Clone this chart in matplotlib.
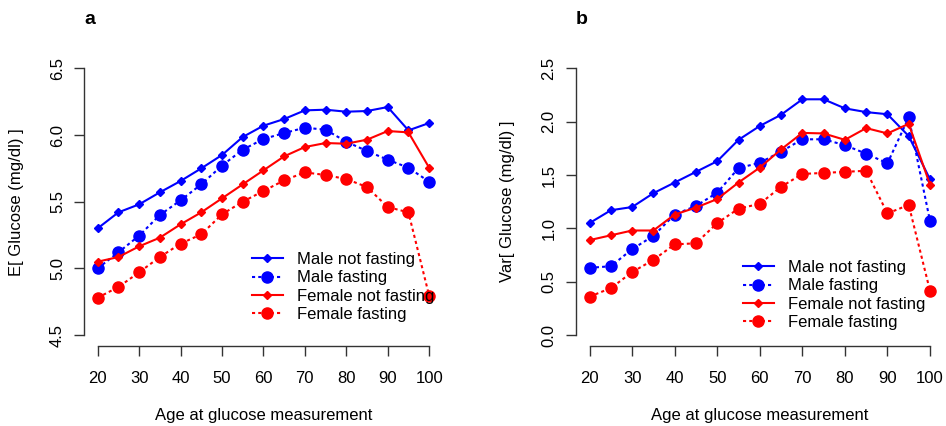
import matplotlib
matplotlib.use("Agg")
import matplotlib.pyplot as plt

plt.rcParams['font.family'] = ['Liberation Sans', 'DejaVu Sans']

edad = [20, 25, 30, 35, 40, 45, 50, 55, 60, 65, 70, 75, 80, 85, 90, 95, 100]

# Panel a: media de glucosa
media_hombre_no_ayuno = [5.30, 5.42, 5.48, 5.57, 5.655, 5.75, 5.85, 5.985, 6.07, 6.12,
                         6.185, 6.19, 6.175, 6.18, 6.21, 6.035, 6.09]
media_hombre_ayuno = [5.00, 5.12, 5.245, 5.40, 5.51, 5.63, 5.77, 5.89, 5.97, 6.015,
                      6.055, 6.04, 5.95, 5.88, 5.815, 5.755, 5.65]
media_mujer_no_ayuno = [5.05, 5.085, 5.165, 5.23, 5.33, 5.42, 5.525, 5.63, 5.735, 5.84,
                        5.91, 5.94, 5.935, 5.965, 6.03, 6.02, 5.755]
media_mujer_ayuno = [4.78, 4.86, 4.97, 5.085, 5.185, 5.255, 5.405, 5.50, 5.58, 5.66,
                     5.72, 5.70, 5.67, 5.61, 5.46, 5.42, 4.795]

# Panel b: varianza de glucosa
var_hombre_no_ayuno = [1.05, 1.17, 1.20, 1.33, 1.43, 1.53, 1.63, 1.83, 1.96, 2.065,
                       2.21, 2.21, 2.125, 2.09, 2.07, 1.865, 1.46]
var_hombre_ayuno = [0.63, 0.645, 0.805, 0.93, 1.13, 1.21, 1.335, 1.565, 1.615, 1.72,
                    1.835, 1.835, 1.78, 1.70, 1.61, 2.04, 1.07]
var_mujer_no_ayuno = [0.89, 0.935, 0.98, 0.98, 1.13, 1.195, 1.275, 1.43, 1.57, 1.74,
                      1.895, 1.89, 1.83, 1.94, 1.89, 1.98, 1.41]
var_mujer_ayuno = [0.36, 0.44, 0.59, 0.705, 0.85, 0.86, 1.05, 1.185, 1.23, 1.39,
                   1.51, 1.52, 1.53, 1.54, 1.14, 1.22, 0.415]

etiquetas = ['Male not fasting', 'Male fasting', 'Female not fasting', 'Female fasting']

W, H = 946, 426
fig = plt.figure(figsize=(W / 100, H / 100), dpi=100)


def dibujar_panel(rect, series, yticks, ylabel, letra, letra_x, leyenda_pos):
    ax = fig.add_axes(rect)
    estilos = [('#0000FF', '-', 'D', 3.8), ('#0000FF', (0, (1.5, 1.5)), 'o', 8),
               ('#FF0000', '-', 'D', 3.8), ('#FF0000', (0, (1.5, 1.5)), 'o', 8)]
    for datos, (color, ls, mk, ms), etiqueta in zip(series, estilos, etiquetas):
        ax.plot(edad, datos, color=color, linestyle=ls, linewidth=1.5,
                marker=mk, markersize=ms, label=etiqueta)
    ypad = (yticks[-1] - yticks[0]) * 0.04
    ax.set_xlim(16.8, 103.2)
    ax.set_ylim(yticks[0] - ypad, yticks[-1] + ypad)
    ax.set_xticks(range(20, 101, 10))
    ax.set_yticks(yticks)
    ax.set_yticklabels(['%.1f' % v for v in yticks], rotation=90, va='center')
    ax.spines['top'].set_visible(False)
    ax.spines['right'].set_visible(False)
    ax.spines['left'].set_bounds(yticks[0], yticks[-1])
    ax.spines['bottom'].set_bounds(20, 100)
    for s in ('left', 'bottom'):
        ax.spines[s].set_color('#333333')
        ax.spines[s].set_linewidth(1.0)
    ax.tick_params(length=7, width=1.0, color='#333333', labelsize=12)
    ax.tick_params(axis='x', pad=11)
    ax.tick_params(axis='y', pad=7)
    ax.set_xlabel('Age at glucose measurement', fontsize=12, labelpad=16)
    ax.set_ylabel(ylabel, fontsize=12, labelpad=19)
    ax.legend(loc='upper left', bbox_to_anchor=leyenda_pos, frameon=False,
              fontsize=12, handlelength=1.85, handletextpad=0.85,
              labelspacing=0.2, borderpad=0, borderaxespad=0)
    fig.text(letra_x, 1 - 19 / H, letra, fontsize=14, fontweight='bold',
             ha='center', va='center')
    return ax


ax1 = dibujar_panel([84.4 / W, 80.3 / H, 358 / W, 288 / H],
                    [media_hombre_no_ayuno, media_hombre_ayuno,
                     media_mujer_no_ayuno, media_mujer_ayuno],
                    [4.5, 5.0, 5.5, 6.0, 6.5], 'E[ Glucose (mg/dl) ]', 'a', 90 / W,
                    ((252 - 84.4) / 358, (426 - 252 - 80.3) / 288))
ax2 = dibujar_panel([576 / W, 80.3 / H, 367.6 / W, 288 / H],
                    [var_hombre_no_ayuno, var_hombre_ayuno,
                     var_mujer_no_ayuno, var_mujer_ayuno],
                    [0.0, 0.5, 1.0, 1.5, 2.0, 2.5], 'Var[ Glucose (mg/dl) ]', 'b', 582 / W,
                    ((743 - 576) / 367.6, (426 - 260 - 80.3) / 288))

fig.savefig('out.png', dpi=100)
